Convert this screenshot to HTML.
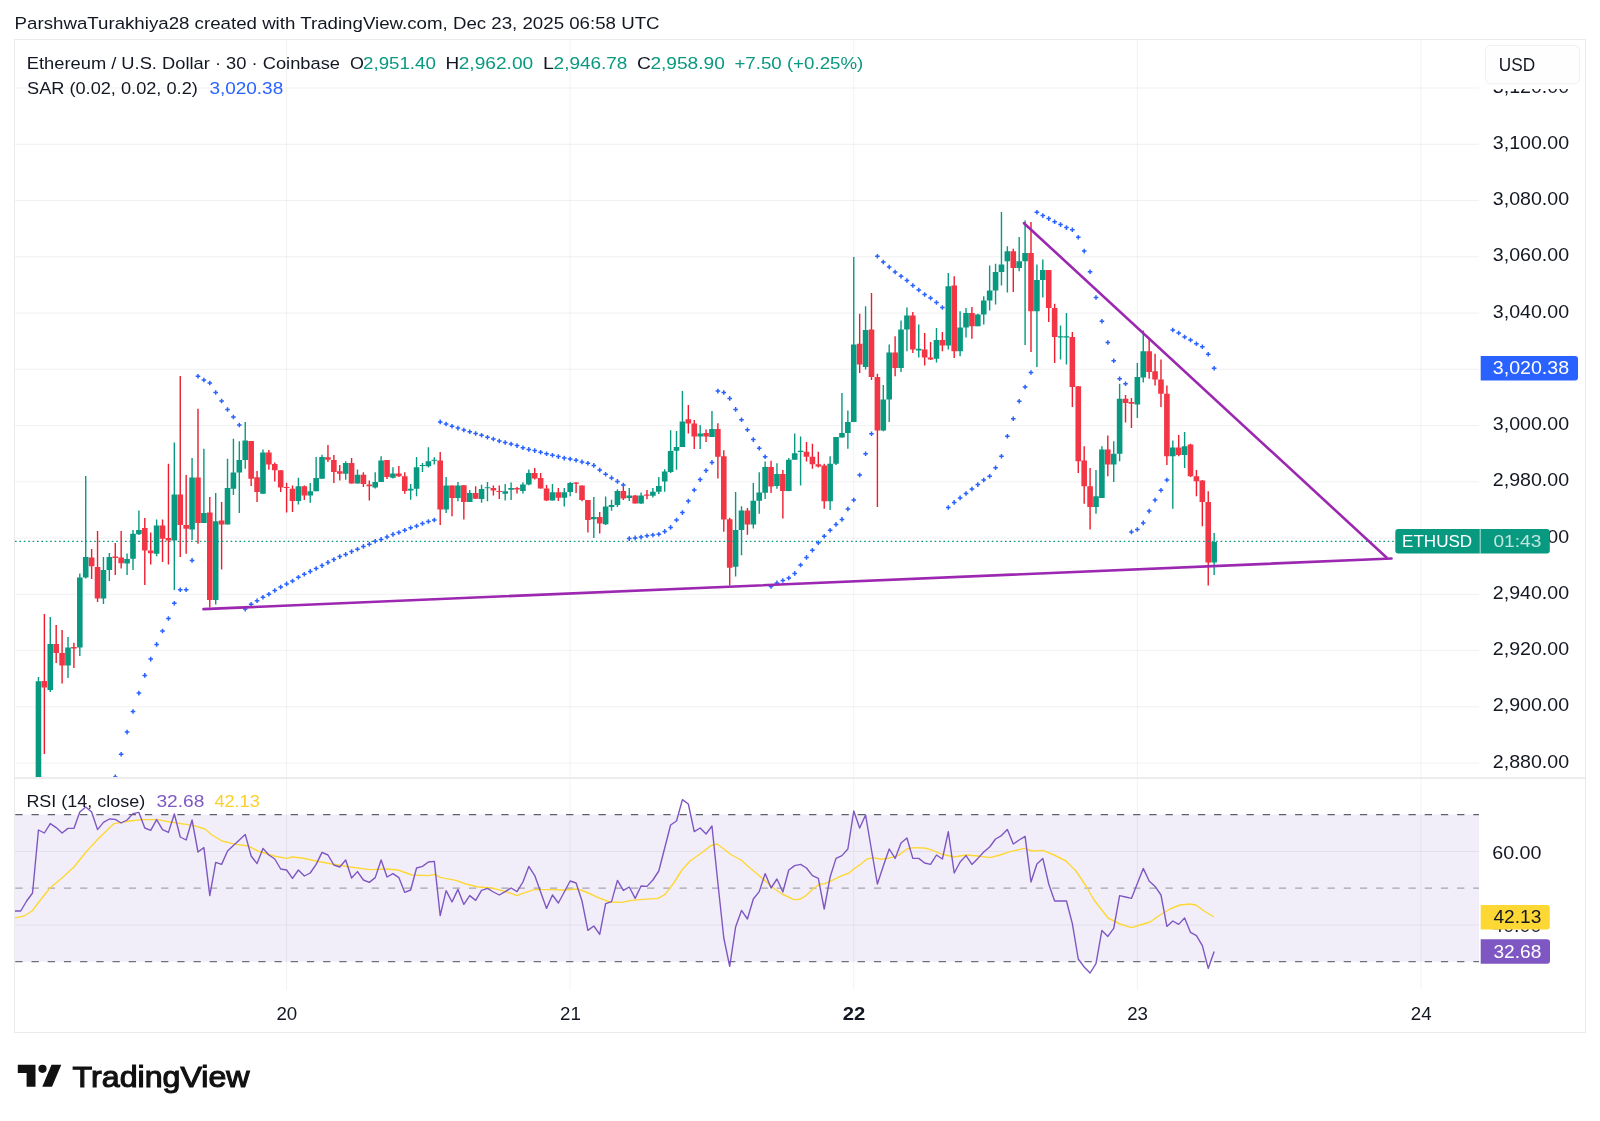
<!DOCTYPE html><html><head><meta charset="utf-8"><style>html,body{margin:0;padding:0;background:#fff;}svg{display:block;will-change:transform;}text{font-family:"Liberation Sans",sans-serif;}</style></head><body>
<svg width="1600" height="1121" viewBox="0 0 1600 1121">
<defs><clipPath id="mp"><rect x="15" y="40" width="1464" height="737"/></clipPath><clipPath id="rp"><rect x="15" y="779" width="1464" height="211"/></clipPath></defs>
<rect width="1600" height="1121" fill="#fff"/>
<text x="14.6" y="28.9" font-size="16.8" fill="#131722" textLength="645" lengthAdjust="spacingAndGlyphs">ParshwaTurakhiya28 created with TradingView.com, Dec 23, 2025 06:58 UTC</text>
<rect x="15" y="814.6" width="1464" height="147.1" fill="#F2EEF9"/>
<path d="M15 88.0H1479 M15 144.3H1479 M15 200.6H1479 M15 256.8H1479 M15 313.1H1479 M15 369.3H1479 M15 425.6H1479 M15 481.8H1479 M15 538.1H1479 M15 594.3H1479 M15 650.6H1479 M15 706.8H1479 M15 763.1H1479 M15 851.4H1479 M15 925.0H1479" stroke="#000" stroke-opacity="0.058" stroke-width="1" fill="none"/>
<path d="M286.5 40V777 M286.5 779V990 M570.1 40V777 M570.1 779V990 M853.7 40V777 M853.7 779V990 M1137.3 40V777 M1137.3 779V990 M1420.9 40V777 M1420.9 779V990" stroke="#000" stroke-opacity="0.05" stroke-width="1" fill="none"/>
<path d="M15.3 814.6H1479" stroke="#5D606B" stroke-width="1.2" stroke-dasharray="7.3 8.9" fill="none"/>
<path d="M15.3 888.2H1479" stroke="#A3A5AD" stroke-width="1.2" stroke-dasharray="7.3 8.9" fill="none"/>
<path d="M15.3 961.7H1479" stroke="#6E717C" stroke-width="1.2" stroke-dasharray="7.3 8.9" fill="none"/>
<path d="M15 778H1585" stroke="#ECECEC" stroke-width="2"/>
<rect x="14.5" y="39.5" width="1571" height="993" fill="none" stroke="#EBEBEB" stroke-width="1"/>
<g clip-path="url(#mp)">
<path d="M38.46 677.00V777.00 M50.28 617.00V692.00 M68.00 637.00V678.00 M79.82 573.60V656.00 M85.72 476.00V578.50 M103.45 557.00V604.00 M109.36 553.00V581.00 M127.08 553.50V575.00 M132.99 530.00V570.00 M138.90 510.50V535.00 M156.62 519.50V556.25 M174.34 442.50V590.00 M192.07 458.00V540.00 M203.88 448.75V523.00 M215.70 493.00V604.50 M227.52 458.75V524.50 M233.42 438.75V495.00 M239.33 441.25V513.00 M245.24 421.90V468.75 M262.96 449.40V493.75 M298.41 477.75V504.40 M310.23 483.00V502.75 M316.14 456.90V491.25 M322.04 454.75V478.75 M345.68 461.25V479.75 M357.49 469.40V483.50 M375.22 472.25V488.50 M381.12 456.25V481.90 M392.94 467.25V478.50 M410.66 484.00V499.75 M416.57 456.90V496.25 M422.48 463.10V471.90 M428.39 447.25V467.50 M434.30 457.25V464.40 M446.11 476.90V513.10 M457.93 481.90V501.25 M469.74 490.00V501.90 M481.56 484.75V502.75 M487.47 481.90V501.25 M505.19 484.00V500.60 M511.10 482.50V500.00 M522.92 482.25V493.50 M528.82 469.40V485.25 M552.46 484.00V500.60 M564.27 488.10V506.50 M570.18 481.90V496.25 M593.81 497.10V537.90 M605.63 496.40V525.00 M611.54 499.70V510.70 M617.44 489.30V507.10 M629.26 487.90V501.10 M641.08 492.60V504.00 M652.89 487.90V497.40 M658.80 476.90V494.00 M664.71 469.30V491.70 M670.62 430.30V473.10 M676.52 431.10V469.70 M682.43 391.10V446.90 M700.16 425.00V448.90 M711.97 411.10V437.10 M735.60 491.90V576.60 M741.51 506.20V555.20 M753.33 483.00V528.50 M759.24 472.30V513.80 M765.14 461.60V499.00 M776.96 463.30V488.80 M788.78 458.00V491.30 M794.68 433.50V459.80 M800.59 436.60V485.60 M830.13 456.25V510.00 M836.04 437.00V465.00 M841.95 393.00V437.50 M847.86 410.50V448.75 M853.76 257.00V422.00 M865.58 306.25V369.50 M883.30 385.00V431.25 M889.21 344.50V422.00 M901.03 320.50V372.00 M906.94 307.50V351.25 M918.75 324.50V357.50 M936.48 328.00V362.50 M948.29 273.00V349.50 M960.11 311.25V356.25 M966.02 308.00V337.50 M977.83 313.75V326.25 M983.74 296.25V324.50 M989.65 265.50V310.50 M995.56 263.75V304.50 M1001.46 212.00V285.50 M1007.37 246.25V292.50 M1019.19 237.00V271.25 M1025.10 220.50V345.00 M1036.91 264.50V367.00 M1042.82 259.50V297.50 M1060.54 325.50V359.50 M1066.45 313.00V364.50 M1095.99 470.00V513.75 M1101.90 446.25V498.00 M1113.72 441.25V482.00 M1119.62 383.75V461.25 M1137.35 363.00V418.00 M1143.26 330.50V382.50 M1172.80 440.50V508.75 M1184.61 432.00V468.00 M1214.15 533.00V575.00" stroke="#089981" stroke-width="1.4" fill="none"/>
<path d="M35.66 681.20h5.6v95.80h-5.6z M47.48 644.00h5.6v46.00h-5.6z M65.20 647.50h5.6v18.00h-5.6z M77.02 577.60h5.6v69.90h-5.6z M82.92 557.00h5.6v20.60h-5.6z M100.65 570.00h5.6v28.50h-5.6z M106.56 557.00h5.6v13.00h-5.6z M124.28 559.00h5.6v4.50h-5.6z M130.19 533.75h5.6v25.00h-5.6z M136.10 530.00h5.6v4.25h-5.6z M153.82 525.50h5.6v28.25h-5.6z M171.54 494.50h5.6v46.00h-5.6z M189.27 477.50h5.6v52.00h-5.6z M201.08 513.00h5.6v10.00h-5.6z M212.90 521.25h5.6v78.75h-5.6z M224.72 488.00h5.6v36.50h-5.6z M230.62 472.50h5.6v16.25h-5.6z M236.53 460.00h5.6v12.50h-5.6z M242.44 440.60h5.6v19.40h-5.6z M260.16 452.50h5.6v41.25h-5.6z M295.61 486.25h5.6v14.75h-5.6z M307.43 491.25h5.6v4.35h-5.6z M313.34 478.00h5.6v13.25h-5.6z M319.24 456.90h5.6v21.85h-5.6z M342.88 463.10h5.6v10.65h-5.6z M354.69 474.75h5.6v8.75h-5.6z M372.42 482.10h5.6v5.40h-5.6z M378.32 460.60h5.6v21.30h-5.6z M390.14 473.50h5.6v4.25h-5.6z M407.86 488.75h5.6v1.85h-5.6z M413.77 467.25h5.6v21.50h-5.6z M419.68 465.00h5.6v1.00h-5.6z M425.59 461.25h5.6v5.00h-5.6z M431.50 459.75h5.6v1.00h-5.6z M443.31 485.60h5.6v23.80h-5.6z M455.13 485.60h5.6v12.50h-5.6z M466.94 493.10h5.6v8.80h-5.6z M478.76 489.00h5.6v10.00h-5.6z M484.67 487.25h5.6v1.00h-5.6z M502.39 491.25h5.6v2.50h-5.6z M508.30 488.10h5.6v1.65h-5.6z M520.12 484.40h5.6v6.60h-5.6z M526.02 473.10h5.6v11.30h-5.6z M549.66 492.25h5.6v8.35h-5.6z M561.47 492.25h5.6v5.50h-5.6z M567.38 483.10h5.6v8.80h-5.6z M591.01 517.10h5.6v2.20h-5.6z M602.83 506.40h5.6v17.90h-5.6z M608.74 505.00h5.6v1.90h-5.6z M614.64 491.10h5.6v13.90h-5.6z M626.46 495.40h5.6v2.50h-5.6z M638.28 495.40h5.6v8.20h-5.6z M650.09 491.70h5.6v4.00h-5.6z M656.00 486.00h5.6v5.70h-5.6z M661.91 471.40h5.6v10.00h-5.6z M667.82 451.10h5.6v21.00h-5.6z M673.72 446.90h5.6v3.80h-5.6z M679.63 421.40h5.6v25.50h-5.6z M697.36 433.60h5.6v2.80h-5.6z M709.17 428.90h5.6v8.20h-5.6z M732.80 529.90h5.6v36.90h-5.6z M738.71 510.60h5.6v19.30h-5.6z M750.53 500.80h5.6v23.70h-5.6z M756.44 492.40h5.6v8.40h-5.6z M762.34 466.90h5.6v25.90h-5.6z M774.16 474.00h5.6v12.00h-5.6z M785.98 459.80h5.6v31.20h-5.6z M791.88 453.20h5.6v6.60h-5.6z M797.79 450.80h5.6v1.30h-5.6z M827.33 463.75h5.6v37.50h-5.6z M833.24 437.00h5.6v26.75h-5.6z M839.15 433.00h5.6v4.50h-5.6z M845.06 422.00h5.6v11.00h-5.6z M850.96 344.50h5.6v77.50h-5.6z M862.78 330.00h5.6v37.00h-5.6z M880.50 399.50h5.6v31.00h-5.6z M886.41 352.50h5.6v47.00h-5.6z M898.23 329.50h5.6v38.50h-5.6z M904.14 315.50h5.6v14.00h-5.6z M915.95 348.75h5.6v1.75h-5.6z M933.68 340.00h5.6v18.75h-5.6z M945.49 286.25h5.6v59.25h-5.6z M957.31 327.50h5.6v23.75h-5.6z M963.22 313.00h5.6v14.50h-5.6z M975.03 314.50h5.6v11.75h-5.6z M980.94 300.50h5.6v14.00h-5.6z M986.85 290.50h5.6v10.00h-5.6z M992.76 272.00h5.6v18.50h-5.6z M998.66 264.50h5.6v7.50h-5.6z M1004.57 251.25h5.6v10.00h-5.6z M1016.39 261.25h5.6v6.75h-5.6z M1022.30 253.00h5.6v8.25h-5.6z M1034.11 280.00h5.6v31.25h-5.6z M1040.02 270.00h5.6v10.00h-5.6z M1057.74 336.25h5.6v1.25h-5.6z M1063.65 336.25h5.6v1.25h-5.6z M1093.19 496.25h5.6v10.75h-5.6z M1099.10 449.50h5.6v48.50h-5.6z M1110.92 453.75h5.6v10.75h-5.6z M1116.82 398.75h5.6v55.00h-5.6z M1134.55 377.00h5.6v27.50h-5.6z M1140.46 351.25h5.6v26.25h-5.6z M1170.00 447.50h5.6v8.75h-5.6z M1181.81 446.25h5.6v8.75h-5.6z M1211.35 542.00h5.6v20.50h-5.6z" fill="#089981"/>
<path d="M44.37 614.00V754.00 M56.18 625.00V663.00 M62.09 630.00V683.50 M73.91 642.70V668.00 M91.63 549.00V579.00 M97.54 531.00V602.00 M115.26 543.00V575.00 M121.17 531.00V568.50 M144.80 518.00V585.00 M150.71 532.50V564.50 M162.53 519.50V562.00 M168.44 463.75V564.50 M180.25 376.00V557.00 M186.16 475.00V553.75 M197.98 408.75V543.75 M209.79 497.00V607.50 M221.61 502.00V569.50 M251.15 441.00V486.00 M257.06 471.00V501.90 M268.87 450.00V469.75 M274.78 462.50V481.50 M280.69 470.25V491.90 M286.60 482.75V512.50 M292.50 485.60V511.90 M304.32 485.60V500.00 M327.95 445.00V461.90 M333.86 455.00V483.10 M339.77 465.00V480.60 M351.58 458.00V483.50 M363.40 472.25V486.90 M369.31 480.60V500.60 M387.03 460.00V479.00 M398.85 466.00V476.90 M404.76 472.25V493.75 M440.20 451.90V525.00 M452.02 485.60V516.25 M463.84 485.00V519.40 M475.65 486.25V499.00 M493.38 485.60V495.60 M499.28 485.60V499.00 M517.01 486.90V493.50 M534.73 468.10V479.40 M540.64 473.10V488.50 M546.55 485.00V501.00 M558.36 488.10V501.00 M576.09 482.25V493.10 M582.00 485.60V501.25 M587.90 500.00V532.50 M599.72 512.10V533.60 M623.35 487.10V500.00 M635.17 495.00V503.60 M646.98 490.00V499.30 M688.34 405.00V433.60 M694.25 420.00V448.90 M706.06 429.40V441.90 M717.88 423.20V478.50 M723.79 450.30V531.70 M729.70 517.80V585.50 M747.42 507.90V534.70 M771.05 460.70V493.10 M782.87 469.90V518.60 M806.50 441.90V461.60 M812.41 443.70V468.70 M818.32 451.70V467.40 M824.22 463.75V508.75 M859.67 313.75V373.00 M871.49 293.00V380.00 M877.40 373.75V507.00 M895.12 336.25V376.25 M912.84 312.00V353.00 M924.66 333.00V365.50 M930.57 342.00V360.00 M942.38 332.00V351.25 M954.20 276.25V358.00 M971.92 307.00V338.75 M1013.28 248.75V292.00 M1031.00 222.00V352.00 M1048.73 270.00V322.00 M1054.64 303.75V363.00 M1072.36 332.00V407.00 M1078.27 386.25V473.00 M1084.18 446.25V503.75 M1090.08 468.00V529.50 M1107.81 435.50V476.25 M1125.53 395.00V422.50 M1131.44 398.00V428.00 M1149.16 338.75V378.75 M1155.07 353.75V385.50 M1160.98 359.50V407.00 M1166.89 385.50V465.00 M1178.70 435.00V456.25 M1190.52 443.75V477.00 M1196.43 470.00V496.25 M1202.34 480.00V526.25 M1208.24 491.25V585.50" stroke="#EE1C2E" stroke-width="1.4" fill="none"/>
<path d="M41.57 681.00h5.6v6.50h-5.6z M53.38 644.00h5.6v9.00h-5.6z M59.29 653.00h5.6v12.50h-5.6z M71.11 647.00h5.6v1.40h-5.6z M88.83 557.60h5.6v8.60h-5.6z M94.74 567.00h5.6v31.50h-5.6z M112.46 556.50h5.6v1.50h-5.6z M118.37 557.60h5.6v5.70h-5.6z M142.00 528.00h5.6v22.50h-5.6z M147.91 550.50h5.6v2.75h-5.6z M159.73 525.50h5.6v13.25h-5.6z M165.64 538.00h5.6v2.50h-5.6z M177.45 494.50h5.6v30.50h-5.6z M183.36 525.00h5.6v3.75h-5.6z M195.18 477.50h5.6v45.50h-5.6z M206.99 512.50h5.6v87.50h-5.6z M218.81 520.50h5.6v4.00h-5.6z M248.35 441.00h5.6v37.75h-5.6z M254.26 477.25h5.6v14.65h-5.6z M266.07 452.50h5.6v11.90h-5.6z M271.98 464.00h5.6v6.25h-5.6z M277.89 470.25h5.6v17.25h-5.6z M283.80 486.90h5.6v1.00h-5.6z M289.70 488.75h5.6v12.25h-5.6z M301.52 486.25h5.6v9.35h-5.6z M325.15 457.25h5.6v2.50h-5.6z M331.06 460.00h5.6v11.90h-5.6z M336.97 471.25h5.6v2.50h-5.6z M348.78 463.10h5.6v20.40h-5.6z M360.60 474.75h5.6v9.25h-5.6z M366.51 484.40h5.6v1.85h-5.6z M384.23 460.00h5.6v16.90h-5.6z M396.05 473.50h5.6v2.75h-5.6z M401.96 476.25h5.6v14.75h-5.6z M437.40 460.60h5.6v48.80h-5.6z M449.22 485.60h5.6v12.50h-5.6z M461.04 485.25h5.6v16.65h-5.6z M472.85 493.10h5.6v5.65h-5.6z M490.58 488.10h5.6v2.50h-5.6z M496.48 491.00h5.6v1.00h-5.6z M514.21 488.10h5.6v1.30h-5.6z M531.93 473.10h5.6v5.40h-5.6z M537.84 478.10h5.6v10.40h-5.6z M543.75 488.50h5.6v12.10h-5.6z M555.56 492.25h5.6v5.50h-5.6z M573.29 482.50h5.6v1.25h-5.6z M579.20 485.60h5.6v14.40h-5.6z M585.10 500.00h5.6v20.00h-5.6z M596.92 516.90h5.6v6.70h-5.6z M620.55 491.10h5.6v7.50h-5.6z M632.37 495.40h5.6v8.20h-5.6z M644.18 494.60h5.6v1.10h-5.6z M685.54 419.30h5.6v4.30h-5.6z M691.45 423.60h5.6v12.80h-5.6z M703.26 433.00h5.6v3.60h-5.6z M715.08 428.90h5.6v27.80h-5.6z M720.99 456.20h5.6v63.30h-5.6z M726.90 519.20h5.6v48.50h-5.6z M744.62 510.60h5.6v13.90h-5.6z M768.25 466.90h5.6v19.60h-5.6z M780.07 474.00h5.6v17.00h-5.6z M803.70 451.70h5.6v5.00h-5.6z M809.61 456.70h5.6v7.50h-5.6z M815.52 464.20h5.6v2.20h-5.6z M821.42 465.50h5.6v35.75h-5.6z M856.87 343.75h5.6v20.75h-5.6z M868.69 329.50h5.6v47.50h-5.6z M874.60 377.00h5.6v53.50h-5.6z M892.32 352.50h5.6v15.50h-5.6z M910.04 315.50h5.6v34.00h-5.6z M921.86 349.50h5.6v8.00h-5.6z M927.77 357.50h5.6v2.00h-5.6z M939.58 340.00h5.6v5.50h-5.6z M951.40 285.50h5.6v65.75h-5.6z M969.12 313.00h5.6v13.25h-5.6z M1010.48 251.25h5.6v16.75h-5.6z M1028.20 253.00h5.6v58.25h-5.6z M1045.93 270.00h5.6v38.00h-5.6z M1051.84 308.00h5.6v29.00h-5.6z M1069.56 337.00h5.6v50.00h-5.6z M1075.47 386.25h5.6v75.00h-5.6z M1081.38 460.50h5.6v25.75h-5.6z M1087.28 486.25h5.6v20.75h-5.6z M1105.01 449.50h5.6v15.00h-5.6z M1122.73 398.75h5.6v4.25h-5.6z M1128.64 402.00h5.6v1.75h-5.6z M1146.36 351.25h5.6v20.75h-5.6z M1152.27 371.25h5.6v8.25h-5.6z M1158.18 379.50h5.6v14.25h-5.6z M1164.09 393.75h5.6v62.50h-5.6z M1175.90 447.50h5.6v7.50h-5.6z M1187.72 444.50h5.6v31.75h-5.6z M1193.63 476.25h5.6v5.00h-5.6z M1199.54 480.50h5.6v21.50h-5.6z M1205.44 502.00h5.6v60.50h-5.6z" fill="#F23645"/>
<path d="M15 541.3H1396" stroke="#089981" stroke-width="1.3" stroke-dasharray="1.6 2.8" fill="none"/>
<path d="M112.96 776.15h4.6v1.5h-4.6z M114.51 774.60h1.5v4.6h-1.5z M118.87 753.55h4.6v1.5h-4.6z M120.42 752.00h1.5v4.6h-1.5z M124.78 731.35h4.6v1.5h-4.6z M126.33 729.80h1.5v4.6h-1.5z M130.69 710.75h4.6v1.5h-4.6z M132.24 709.20h1.5v4.6h-1.5z M136.60 692.35h4.6v1.5h-4.6z M138.15 690.80h1.5v4.6h-1.5z M142.50 674.65h4.6v1.5h-4.6z M144.05 673.10h1.5v4.6h-1.5z M148.41 658.35h4.6v1.5h-4.6z M149.96 656.80h1.5v4.6h-1.5z M154.32 643.65h4.6v1.5h-4.6z M155.87 642.10h1.5v4.6h-1.5z M160.23 630.25h4.6v1.5h-4.6z M161.78 628.70h1.5v4.6h-1.5z M166.14 617.75h4.6v1.5h-4.6z M167.69 616.20h1.5v4.6h-1.5z M172.04 602.45h4.6v1.5h-4.6z M173.59 600.90h1.5v4.6h-1.5z M177.95 589.05h4.6v1.5h-4.6z M179.50 587.50h1.5v4.6h-1.5z M183.86 589.05h4.6v1.5h-4.6z M185.41 587.50h1.5v4.6h-1.5z M189.77 559.65h4.6v1.5h-4.6z M191.32 558.10h1.5v4.6h-1.5z M195.68 375.50h4.6v1.5h-4.6z M197.23 373.95h1.5v4.6h-1.5z M201.58 379.25h4.6v1.5h-4.6z M203.13 377.70h1.5v4.6h-1.5z M207.49 382.25h4.6v1.5h-4.6z M209.04 380.70h1.5v4.6h-1.5z M213.40 391.75h4.6v1.5h-4.6z M214.95 390.20h1.5v4.6h-1.5z M219.31 400.25h4.6v1.5h-4.6z M220.86 398.70h1.5v4.6h-1.5z M225.22 408.75h4.6v1.5h-4.6z M226.77 407.20h1.5v4.6h-1.5z M231.12 416.25h4.6v1.5h-4.6z M232.67 414.70h1.5v4.6h-1.5z M237.03 424.25h4.6v1.5h-4.6z M238.58 422.70h1.5v4.6h-1.5z M242.94 608.35h4.6v1.5h-4.6z M244.49 606.80h1.5v4.6h-1.5z M248.85 603.45h4.6v1.5h-4.6z M250.40 601.90h1.5v4.6h-1.5z M254.76 600.05h4.6v1.5h-4.6z M256.31 598.50h1.5v4.6h-1.5z M260.66 596.45h4.6v1.5h-4.6z M262.21 594.90h1.5v4.6h-1.5z M266.57 593.45h4.6v1.5h-4.6z M268.12 591.90h1.5v4.6h-1.5z M272.48 589.75h4.6v1.5h-4.6z M274.03 588.20h1.5v4.6h-1.5z M278.39 586.25h4.6v1.5h-4.6z M279.94 584.70h1.5v4.6h-1.5z M284.30 583.15h4.6v1.5h-4.6z M285.85 581.60h1.5v4.6h-1.5z M290.20 580.25h4.6v1.5h-4.6z M291.75 578.70h1.5v4.6h-1.5z M296.11 576.45h4.6v1.5h-4.6z M297.66 574.90h1.5v4.6h-1.5z M302.02 573.55h4.6v1.5h-4.6z M303.57 572.00h1.5v4.6h-1.5z M307.93 570.65h4.6v1.5h-4.6z M309.48 569.10h1.5v4.6h-1.5z M313.84 567.75h4.6v1.5h-4.6z M315.39 566.20h1.5v4.6h-1.5z M319.74 564.85h4.6v1.5h-4.6z M321.29 563.30h1.5v4.6h-1.5z M325.65 561.65h4.6v1.5h-4.6z M327.20 560.10h1.5v4.6h-1.5z M331.56 558.85h4.6v1.5h-4.6z M333.11 557.30h1.5v4.6h-1.5z M337.47 555.85h4.6v1.5h-4.6z M339.02 554.30h1.5v4.6h-1.5z M343.38 553.65h4.6v1.5h-4.6z M344.93 552.10h1.5v4.6h-1.5z M349.28 550.85h4.6v1.5h-4.6z M350.83 549.30h1.5v4.6h-1.5z M355.19 548.55h4.6v1.5h-4.6z M356.74 547.00h1.5v4.6h-1.5z M361.10 545.65h4.6v1.5h-4.6z M362.65 544.10h1.5v4.6h-1.5z M367.01 543.55h4.6v1.5h-4.6z M368.56 542.00h1.5v4.6h-1.5z M372.92 540.45h4.6v1.5h-4.6z M374.47 538.90h1.5v4.6h-1.5z M378.82 538.65h4.6v1.5h-4.6z M380.37 537.10h1.5v4.6h-1.5z M384.73 536.15h4.6v1.5h-4.6z M386.28 534.60h1.5v4.6h-1.5z M390.64 533.65h4.6v1.5h-4.6z M392.19 532.10h1.5v4.6h-1.5z M396.55 531.75h4.6v1.5h-4.6z M398.10 530.20h1.5v4.6h-1.5z M402.46 529.50h4.6v1.5h-4.6z M404.01 527.95h1.5v4.6h-1.5z M408.36 527.00h4.6v1.5h-4.6z M409.91 525.45h1.5v4.6h-1.5z M414.27 525.25h4.6v1.5h-4.6z M415.82 523.70h1.5v4.6h-1.5z M420.18 522.75h4.6v1.5h-4.6z M421.73 521.20h1.5v4.6h-1.5z M426.09 520.75h4.6v1.5h-4.6z M427.64 519.20h1.5v4.6h-1.5z M432.00 519.25h4.6v1.5h-4.6z M433.55 517.70h1.5v4.6h-1.5z M437.90 421.15h4.6v1.5h-4.6z M439.45 419.60h1.5v4.6h-1.5z M443.81 423.25h4.6v1.5h-4.6z M445.36 421.70h1.5v4.6h-1.5z M449.72 425.50h4.6v1.5h-4.6z M451.27 423.95h1.5v4.6h-1.5z M455.63 427.35h4.6v1.5h-4.6z M457.18 425.80h1.5v4.6h-1.5z M461.54 429.25h4.6v1.5h-4.6z M463.09 427.70h1.5v4.6h-1.5z M467.44 430.95h4.6v1.5h-4.6z M468.99 429.40h1.5v4.6h-1.5z M473.35 432.75h4.6v1.5h-4.6z M474.90 431.20h1.5v4.6h-1.5z M479.26 434.50h4.6v1.5h-4.6z M480.81 432.95h1.5v4.6h-1.5z M485.17 436.50h4.6v1.5h-4.6z M486.72 434.95h1.5v4.6h-1.5z M491.08 438.25h4.6v1.5h-4.6z M492.63 436.70h1.5v4.6h-1.5z M496.98 440.25h4.6v1.5h-4.6z M498.53 438.70h1.5v4.6h-1.5z M502.89 441.75h4.6v1.5h-4.6z M504.44 440.20h1.5v4.6h-1.5z M508.80 443.25h4.6v1.5h-4.6z M510.35 441.70h1.5v4.6h-1.5z M514.71 444.85h4.6v1.5h-4.6z M516.26 443.30h1.5v4.6h-1.5z M520.62 447.00h4.6v1.5h-4.6z M522.17 445.45h1.5v4.6h-1.5z M526.52 448.65h4.6v1.5h-4.6z M528.07 447.10h1.5v4.6h-1.5z M532.43 449.85h4.6v1.5h-4.6z M533.98 448.30h1.5v4.6h-1.5z M538.34 451.50h4.6v1.5h-4.6z M539.89 449.95h1.5v4.6h-1.5z M544.25 453.00h4.6v1.5h-4.6z M545.80 451.45h1.5v4.6h-1.5z M550.16 454.50h4.6v1.5h-4.6z M551.71 452.95h1.5v4.6h-1.5z M556.06 455.85h4.6v1.5h-4.6z M557.61 454.30h1.5v4.6h-1.5z M561.97 457.35h4.6v1.5h-4.6z M563.52 455.80h1.5v4.6h-1.5z M567.88 458.25h4.6v1.5h-4.6z M569.43 456.70h1.5v4.6h-1.5z M573.79 459.50h4.6v1.5h-4.6z M575.34 457.95h1.5v4.6h-1.5z M579.70 461.15h4.6v1.5h-4.6z M581.25 459.60h1.5v4.6h-1.5z M585.60 462.55h4.6v1.5h-4.6z M587.15 461.00h1.5v4.6h-1.5z M591.51 464.65h4.6v1.5h-4.6z M593.06 463.10h1.5v4.6h-1.5z M597.42 469.25h4.6v1.5h-4.6z M598.97 467.70h1.5v4.6h-1.5z M603.33 473.55h4.6v1.5h-4.6z M604.88 472.00h1.5v4.6h-1.5z M609.24 477.15h4.6v1.5h-4.6z M610.79 475.60h1.5v4.6h-1.5z M615.14 480.65h4.6v1.5h-4.6z M616.69 479.10h1.5v4.6h-1.5z M621.05 484.25h4.6v1.5h-4.6z M622.60 482.70h1.5v4.6h-1.5z M626.96 537.85h4.6v1.5h-4.6z M628.51 536.30h1.5v4.6h-1.5z M632.87 537.15h4.6v1.5h-4.6z M634.42 535.60h1.5v4.6h-1.5z M638.78 536.35h4.6v1.5h-4.6z M640.33 534.80h1.5v4.6h-1.5z M644.68 534.95h4.6v1.5h-4.6z M646.23 533.40h1.5v4.6h-1.5z M650.59 534.25h4.6v1.5h-4.6z M652.14 532.70h1.5v4.6h-1.5z M656.50 533.55h4.6v1.5h-4.6z M658.05 532.00h1.5v4.6h-1.5z M662.41 530.65h4.6v1.5h-4.6z M663.96 529.10h1.5v4.6h-1.5z M668.32 526.65h4.6v1.5h-4.6z M669.87 525.10h1.5v4.6h-1.5z M674.22 519.25h4.6v1.5h-4.6z M675.77 517.70h1.5v4.6h-1.5z M680.13 511.85h4.6v1.5h-4.6z M681.68 510.30h1.5v4.6h-1.5z M686.04 500.35h4.6v1.5h-4.6z M687.59 498.80h1.5v4.6h-1.5z M691.95 489.25h4.6v1.5h-4.6z M693.50 487.70h1.5v4.6h-1.5z M697.86 478.85h4.6v1.5h-4.6z M699.41 477.30h1.5v4.6h-1.5z M703.76 469.85h4.6v1.5h-4.6z M705.31 468.30h1.5v4.6h-1.5z M709.67 461.65h4.6v1.5h-4.6z M711.22 460.10h1.5v4.6h-1.5z M715.58 390.35h4.6v1.5h-4.6z M717.13 388.80h1.5v4.6h-1.5z M721.49 391.75h4.6v1.5h-4.6z M723.04 390.20h1.5v4.6h-1.5z M727.40 397.65h4.6v1.5h-4.6z M728.95 396.10h1.5v4.6h-1.5z M733.30 408.65h4.6v1.5h-4.6z M734.85 407.10h1.5v4.6h-1.5z M739.21 418.95h4.6v1.5h-4.6z M740.76 417.40h1.5v4.6h-1.5z M745.12 429.05h4.6v1.5h-4.6z M746.67 427.50h1.5v4.6h-1.5z M751.03 438.85h4.6v1.5h-4.6z M752.58 437.30h1.5v4.6h-1.5z M756.94 447.45h4.6v1.5h-4.6z M758.49 445.90h1.5v4.6h-1.5z M762.84 455.95h4.6v1.5h-4.6z M764.39 454.40h1.5v4.6h-1.5z M768.75 585.65h4.6v1.5h-4.6z M770.30 584.10h1.5v4.6h-1.5z M774.66 582.15h4.6v1.5h-4.6z M776.21 580.60h1.5v4.6h-1.5z M780.57 579.75h4.6v1.5h-4.6z M782.12 578.20h1.5v4.6h-1.5z M786.48 577.25h4.6v1.5h-4.6z M788.03 575.70h1.5v4.6h-1.5z M792.38 572.65h4.6v1.5h-4.6z M793.93 571.10h1.5v4.6h-1.5z M798.29 564.25h4.6v1.5h-4.6z M799.84 562.70h1.5v4.6h-1.5z M804.20 556.65h4.6v1.5h-4.6z M805.75 555.10h1.5v4.6h-1.5z M810.11 549.45h4.6v1.5h-4.6z M811.66 547.90h1.5v4.6h-1.5z M816.02 542.05h4.6v1.5h-4.6z M817.57 540.50h1.5v4.6h-1.5z M821.92 535.55h4.6v1.5h-4.6z M823.47 534.00h1.5v4.6h-1.5z M827.83 529.45h4.6v1.5h-4.6z M829.38 527.90h1.5v4.6h-1.5z M833.74 523.65h4.6v1.5h-4.6z M835.29 522.10h1.5v4.6h-1.5z M839.65 518.65h4.6v1.5h-4.6z M841.20 517.10h1.5v4.6h-1.5z M845.56 508.25h4.6v1.5h-4.6z M847.11 506.70h1.5v4.6h-1.5z M851.46 499.25h4.6v1.5h-4.6z M853.01 497.70h1.5v4.6h-1.5z M857.37 474.25h4.6v1.5h-4.6z M858.92 472.70h1.5v4.6h-1.5z M863.28 453.00h4.6v1.5h-4.6z M864.83 451.45h1.5v4.6h-1.5z M869.19 433.00h4.6v1.5h-4.6z M870.74 431.45h1.5v4.6h-1.5z M875.10 255.50h4.6v1.5h-4.6z M876.65 253.95h1.5v4.6h-1.5z M881.00 261.25h4.6v1.5h-4.6z M882.55 259.70h1.5v4.6h-1.5z M886.91 266.25h4.6v1.5h-4.6z M888.46 264.70h1.5v4.6h-1.5z M892.82 271.25h4.6v1.5h-4.6z M894.37 269.70h1.5v4.6h-1.5z M898.73 275.50h4.6v1.5h-4.6z M900.28 273.95h1.5v4.6h-1.5z M904.64 279.75h4.6v1.5h-4.6z M906.19 278.20h1.5v4.6h-1.5z M910.54 284.75h4.6v1.5h-4.6z M912.09 283.20h1.5v4.6h-1.5z M916.45 289.25h4.6v1.5h-4.6z M918.00 287.70h1.5v4.6h-1.5z M922.36 293.75h4.6v1.5h-4.6z M923.91 292.20h1.5v4.6h-1.5z M928.27 297.25h4.6v1.5h-4.6z M929.82 295.70h1.5v4.6h-1.5z M934.18 301.75h4.6v1.5h-4.6z M935.73 300.20h1.5v4.6h-1.5z M940.08 306.75h4.6v1.5h-4.6z M941.63 305.20h1.5v4.6h-1.5z M945.99 506.75h4.6v1.5h-4.6z M947.54 505.20h1.5v4.6h-1.5z M951.90 501.65h4.6v1.5h-4.6z M953.45 500.10h1.5v4.6h-1.5z M957.81 497.15h4.6v1.5h-4.6z M959.36 495.60h1.5v4.6h-1.5z M963.72 492.75h4.6v1.5h-4.6z M965.27 491.20h1.5v4.6h-1.5z M969.62 488.25h4.6v1.5h-4.6z M971.17 486.70h1.5v4.6h-1.5z M975.53 483.85h4.6v1.5h-4.6z M977.08 482.30h1.5v4.6h-1.5z M981.44 479.25h4.6v1.5h-4.6z M982.99 477.70h1.5v4.6h-1.5z M987.35 475.55h4.6v1.5h-4.6z M988.90 474.00h1.5v4.6h-1.5z M993.26 467.05h4.6v1.5h-4.6z M994.81 465.50h1.5v4.6h-1.5z M999.16 455.50h4.6v1.5h-4.6z M1000.71 453.95h1.5v4.6h-1.5z M1005.07 435.50h4.6v1.5h-4.6z M1006.62 433.95h1.5v4.6h-1.5z M1010.98 418.00h4.6v1.5h-4.6z M1012.53 416.45h1.5v4.6h-1.5z M1016.89 400.50h4.6v1.5h-4.6z M1018.44 398.95h1.5v4.6h-1.5z M1022.80 386.25h4.6v1.5h-4.6z M1024.35 384.70h1.5v4.6h-1.5z M1028.70 371.75h4.6v1.5h-4.6z M1030.25 370.20h1.5v4.6h-1.5z M1034.61 211.45h4.6v1.5h-4.6z M1036.16 209.90h1.5v4.6h-1.5z M1040.52 214.85h4.6v1.5h-4.6z M1042.07 213.30h1.5v4.6h-1.5z M1046.43 217.85h4.6v1.5h-4.6z M1047.98 216.30h1.5v4.6h-1.5z M1052.34 220.95h4.6v1.5h-4.6z M1053.89 219.40h1.5v4.6h-1.5z M1058.24 223.85h4.6v1.5h-4.6z M1059.79 222.30h1.5v4.6h-1.5z M1064.15 226.85h4.6v1.5h-4.6z M1065.70 225.30h1.5v4.6h-1.5z M1070.06 228.95h4.6v1.5h-4.6z M1071.61 227.40h1.5v4.6h-1.5z M1075.97 236.45h4.6v1.5h-4.6z M1077.52 234.90h1.5v4.6h-1.5z M1081.88 250.35h4.6v1.5h-4.6z M1083.43 248.80h1.5v4.6h-1.5z M1087.78 271.00h4.6v1.5h-4.6z M1089.33 269.45h1.5v4.6h-1.5z M1093.69 296.75h4.6v1.5h-4.6z M1095.24 295.20h1.5v4.6h-1.5z M1099.60 320.50h4.6v1.5h-4.6z M1101.15 318.95h1.5v4.6h-1.5z M1105.51 341.75h4.6v1.5h-4.6z M1107.06 340.20h1.5v4.6h-1.5z M1111.42 360.00h4.6v1.5h-4.6z M1112.97 358.45h1.5v4.6h-1.5z M1117.32 378.00h4.6v1.5h-4.6z M1118.87 376.45h1.5v4.6h-1.5z M1123.23 383.00h4.6v1.5h-4.6z M1124.78 381.45h1.5v4.6h-1.5z M1129.14 531.15h4.6v1.5h-4.6z M1130.69 529.60h1.5v4.6h-1.5z M1135.05 528.75h4.6v1.5h-4.6z M1136.60 527.20h1.5v4.6h-1.5z M1140.96 522.15h4.6v1.5h-4.6z M1142.51 520.60h1.5v4.6h-1.5z M1146.86 510.35h4.6v1.5h-4.6z M1148.41 508.80h1.5v4.6h-1.5z M1152.77 499.35h4.6v1.5h-4.6z M1154.32 497.80h1.5v4.6h-1.5z M1158.68 489.55h4.6v1.5h-4.6z M1160.23 488.00h1.5v4.6h-1.5z M1164.59 479.25h4.6v1.5h-4.6z M1166.14 477.70h1.5v4.6h-1.5z M1170.50 329.25h4.6v1.5h-4.6z M1172.05 327.70h1.5v4.6h-1.5z M1176.40 332.25h4.6v1.5h-4.6z M1177.95 330.70h1.5v4.6h-1.5z M1182.31 336.25h4.6v1.5h-4.6z M1183.86 334.70h1.5v4.6h-1.5z M1188.22 339.25h4.6v1.5h-4.6z M1189.77 337.70h1.5v4.6h-1.5z M1194.13 343.00h4.6v1.5h-4.6z M1195.68 341.45h1.5v4.6h-1.5z M1200.04 346.00h4.6v1.5h-4.6z M1201.59 344.45h1.5v4.6h-1.5z M1205.94 353.50h4.6v1.5h-4.6z M1207.49 351.95h1.5v4.6h-1.5z M1211.85 367.45h4.6v1.5h-4.6z M1213.40 365.90h1.5v4.6h-1.5z" fill="#2962FF"/>
<path d="M1024 223.2L1386.5 557.5" stroke="#9C27B0" stroke-width="2.6" stroke-linecap="round" fill="none"/>
<path d="M203.5 609.1L1391.5 558.5" stroke="#9C27B0" stroke-width="2.6" stroke-linecap="round" fill="none"/>
</g>
<g clip-path="url(#rp)">
<polyline points="14.4,918.0 24.0,916.0 32.0,911.0 42.0,898.0 50.0,888.0 62.0,878.0 74.0,867.0 86.0,852.0 98.0,839.0 114.0,823.6 130.0,821.0 142.0,819.6 158.0,819.6 170.0,822.0 186.0,824.4 194.0,825.6 205.0,829.0 212.0,835.0 222.0,841.0 236.0,844.4 248.0,846.0 258.0,851.0 274.0,856.0 287.0,858.4 292.0,857.0 302.0,858.0 316.0,861.0 332.0,864.0 350.0,867.0 370.0,869.6 386.0,869.0 398.0,870.0 412.0,875.0 428.0,875.6 435.0,874.4 440.0,877.4 456.0,880.4 466.0,884.0 478.0,887.0 492.0,888.0 506.0,891.6 517.0,895.6 522.0,893.6 534.0,889.6 550.0,889.6 564.0,890.0 578.0,889.0 586.0,892.0 600.0,898.4 610.0,902.0 622.0,902.4 630.0,900.6 640.0,899.6 658.0,898.4 665.0,894.4 673.0,884.0 682.0,870.0 690.0,861.0 700.0,854.0 711.0,845.6 717.0,844.0 724.0,849.0 730.0,854.0 741.0,860.0 750.0,868.0 762.0,878.0 772.0,887.0 782.0,894.0 794.0,899.6 800.0,899.2 806.0,895.6 813.0,889.0 820.0,884.0 825.0,883.6 832.0,880.4 842.0,875.6 849.0,873.0 855.0,868.0 861.0,864.0 867.0,859.0 873.0,857.6 881.0,859.2 888.0,858.4 898.0,855.6 907.0,849.0 914.0,847.6 924.0,848.0 931.0,849.6 940.0,853.6 954.0,857.0 966.0,855.0 978.0,856.0 990.0,857.6 1000.0,855.0 1010.0,851.6 1025.0,848.4 1032.0,851.0 1043.0,850.4 1054.0,855.0 1066.0,861.0 1076.0,871.0 1086.0,886.0 1094.0,900.0 1108.0,918.0 1120.0,924.0 1131.6,927.6 1140.0,925.0 1150.0,922.0 1160.0,915.0 1170.0,909.0 1180.0,905.0 1190.0,904.0 1196.0,905.0 1204.0,911.0 1214.0,917.0" stroke="#FDD835" stroke-width="1.4" fill="none" stroke-linejoin="round"/>
<polyline points="14.83,911.0 20.74,911.0 26.64,901.0 32.55,893.0 38.46,830.0 44.37,833.0 50.28,823.6 56.18,827.6 62.09,833.0 68.00,828.4 73.91,828.4 79.82,812.0 85.72,807.0 91.63,812.0 97.54,829.6 103.45,822.4 109.36,819.0 115.26,819.4 121.17,823.0 127.08,820.0 132.99,813.6 138.90,812.4 144.80,828.0 150.71,830.4 156.62,819.6 162.53,829.6 168.44,832.4 174.34,814.0 180.25,837.0 186.16,840.0 192.07,820.0 197.98,852.0 203.88,847.6 209.79,895.6 215.70,862.4 221.61,864.4 227.52,851.0 233.42,845.6 239.33,840.0 245.24,834.4 251.15,856.0 257.06,863.6 262.96,848.4 268.87,855.0 274.78,859.0 280.69,869.0 286.60,870.0 292.50,878.4 298.41,870.0 304.32,876.0 310.23,873.0 316.14,864.4 322.04,852.4 327.95,855.0 333.86,865.0 339.77,867.0 345.68,860.0 351.58,878.0 357.49,871.6 363.40,880.0 369.31,882.4 375.22,877.6 381.12,860.0 387.03,877.0 392.94,873.6 398.85,877.6 404.76,892.4 410.66,890.0 416.57,868.0 422.48,866.4 428.39,862.0 434.30,861.4 440.20,915.6 446.11,890.6 452.02,902.0 457.93,889.4 463.84,904.4 469.74,895.6 475.65,900.4 481.56,890.4 487.47,888.4 493.38,892.0 499.28,895.0 505.19,891.6 511.10,888.0 517.01,891.6 522.92,882.0 528.82,866.4 534.73,875.6 540.64,892.0 546.55,908.4 552.46,895.0 558.36,903.0 564.27,892.0 570.18,881.0 576.09,883.0 582.00,901.0 587.90,930.4 593.81,926.0 599.72,934.4 605.63,903.6 611.54,901.6 617.44,880.4 623.35,890.4 629.26,887.0 635.17,898.4 641.08,886.0 646.98,886.4 652.89,880.0 658.80,871.0 664.71,848.0 670.62,825.0 676.52,821.0 682.43,799.6 688.34,804.0 694.25,831.6 700.16,828.0 706.06,834.0 711.97,826.0 717.88,883.0 723.79,938.0 729.70,966.4 735.60,927.0 741.51,910.4 747.42,919.0 753.33,899.0 759.24,891.6 765.14,873.6 771.05,888.0 776.96,879.0 782.87,892.0 788.78,870.0 794.68,865.6 800.59,864.4 806.50,868.0 812.41,875.6 818.32,878.4 824.22,909.0 830.13,877.0 836.04,858.4 841.95,855.6 847.86,849.0 853.76,811.0 859.67,828.0 865.58,815.0 871.49,850.0 877.40,884.0 883.30,866.0 889.21,849.0 895.12,858.4 901.03,843.0 906.94,838.0 912.84,858.4 918.75,858.4 924.66,863.0 930.57,864.4 936.48,855.0 942.38,859.0 948.29,831.6 954.20,873.0 960.11,862.0 966.02,855.6 971.92,864.4 977.83,858.4 983.74,852.0 989.65,847.0 995.56,839.0 1001.46,835.6 1007.37,829.6 1013.28,844.0 1019.19,840.0 1025.10,836.4 1031.00,882.0 1036.91,864.0 1042.82,858.4 1048.73,884.0 1054.64,901.0 1060.54,901.0 1066.45,901.0 1072.36,923.6 1078.27,959.0 1084.18,967.0 1090.08,973.0 1095.99,963.6 1101.90,930.4 1107.81,936.4 1113.72,928.4 1119.62,895.6 1125.53,897.0 1131.44,898.4 1137.35,883.6 1143.26,868.4 1149.16,881.0 1155.07,886.4 1160.98,895.0 1166.89,926.4 1172.80,921.0 1178.70,924.4 1184.61,918.0 1190.52,932.4 1196.43,935.6 1202.34,945.6 1208.24,968.4 1214.15,951.6" stroke="#7E57C2" stroke-width="1.4" fill="none" stroke-linejoin="round"/>
</g>
<text x="26.8" y="69.1" font-size="17.2" fill="#131722" textLength="313.2" lengthAdjust="spacingAndGlyphs">Ethereum / U.S. Dollar · 30 · Coinbase</text>
<text x="350.0" y="69.1" font-size="17.2" fill="#131722" textLength="13.9" lengthAdjust="spacingAndGlyphs">O</text>
<text x="363.1" y="69.1" font-size="17.2" fill="#089981" textLength="72.7" lengthAdjust="spacingAndGlyphs">2,951.40</text>
<text x="445.6" y="69.1" font-size="17.2" fill="#131722" textLength="13.7" lengthAdjust="spacingAndGlyphs">H</text>
<text x="458.7" y="69.1" font-size="17.2" fill="#089981" textLength="74.5" lengthAdjust="spacingAndGlyphs">2,962.00</text>
<text x="543.1" y="69.1" font-size="17.2" fill="#131722" textLength="10.9" lengthAdjust="spacingAndGlyphs">L</text>
<text x="553.6" y="69.1" font-size="17.2" fill="#089981" textLength="73.8" lengthAdjust="spacingAndGlyphs">2,946.78</text>
<text x="636.9" y="69.1" font-size="17.2" fill="#131722" textLength="13.9" lengthAdjust="spacingAndGlyphs">C</text>
<text x="650.4" y="69.1" font-size="17.2" fill="#089981" textLength="74.4" lengthAdjust="spacingAndGlyphs">2,958.90</text>
<text x="734.4" y="69.1" font-size="17.2" fill="#089981" textLength="128.9" lengthAdjust="spacingAndGlyphs">+7.50 (+0.25%)</text>
<text x="27.0" y="93.8" font-size="17.2" fill="#131722" textLength="170.8" lengthAdjust="spacingAndGlyphs">SAR (0.02, 0.02, 0.2)</text>
<text x="209.4" y="93.8" font-size="17.2" fill="#2962FF" textLength="73.8" lengthAdjust="spacingAndGlyphs">3,020.38</text>
<text x="26.4" y="807" font-size="17.2" fill="#131722" textLength="118.8" lengthAdjust="spacingAndGlyphs">RSI (14, close)</text>
<text x="156.4" y="807" font-size="17.2" fill="#7E57C2" textLength="48.0" lengthAdjust="spacingAndGlyphs">32.68</text>
<text x="214.4" y="807" font-size="17.2" fill="#FAD02C" textLength="45.4" lengthAdjust="spacingAndGlyphs">42.13</text>
<text x="1492.8" y="92.6" font-size="17.7" fill="#131722" textLength="76.3" lengthAdjust="spacingAndGlyphs">3,120.00</text>
<text x="1492.8" y="148.9" font-size="17.7" fill="#131722" textLength="76.3" lengthAdjust="spacingAndGlyphs">3,100.00</text>
<text x="1492.8" y="205.2" font-size="17.7" fill="#131722" textLength="76.3" lengthAdjust="spacingAndGlyphs">3,080.00</text>
<text x="1492.8" y="261.4" font-size="17.7" fill="#131722" textLength="76.3" lengthAdjust="spacingAndGlyphs">3,060.00</text>
<text x="1492.8" y="317.7" font-size="17.7" fill="#131722" textLength="76.3" lengthAdjust="spacingAndGlyphs">3,040.00</text>
<text x="1492.8" y="373.9" font-size="17.7" fill="#131722" textLength="76.3" lengthAdjust="spacingAndGlyphs">3,020.00</text>
<text x="1492.8" y="430.2" font-size="17.7" fill="#131722" textLength="76.3" lengthAdjust="spacingAndGlyphs">3,000.00</text>
<text x="1492.8" y="486.4" font-size="17.7" fill="#131722" textLength="76.3" lengthAdjust="spacingAndGlyphs">2,980.00</text>
<text x="1492.8" y="542.7" font-size="17.7" fill="#131722" textLength="76.3" lengthAdjust="spacingAndGlyphs">2,960.00</text>
<text x="1492.8" y="598.9" font-size="17.7" fill="#131722" textLength="76.3" lengthAdjust="spacingAndGlyphs">2,940.00</text>
<text x="1492.8" y="655.2" font-size="17.7" fill="#131722" textLength="76.3" lengthAdjust="spacingAndGlyphs">2,920.00</text>
<text x="1492.8" y="711.4" font-size="17.7" fill="#131722" textLength="76.3" lengthAdjust="spacingAndGlyphs">2,900.00</text>
<text x="1492.8" y="767.7" font-size="17.7" fill="#131722" textLength="76.3" lengthAdjust="spacingAndGlyphs">2,880.00</text>
<text x="1492.2" y="858.6" font-size="17.7" fill="#131722" textLength="49.3" lengthAdjust="spacingAndGlyphs">60.00</text>
<text x="1492.2" y="932.2" font-size="17.7" fill="#131722" textLength="49.3" lengthAdjust="spacingAndGlyphs">40.00</text>
<rect x="1480" y="40.5" width="104.5" height="48.6" fill="#fff"/>
<rect x="1485.5" y="45.5" width="94" height="38.3" rx="5" fill="#FEFEFE" stroke="#F0F0F0" stroke-width="1"/>
<text x="1498.7" y="70.8" font-size="17.7" fill="#131722" textLength="36.4" lengthAdjust="spacingAndGlyphs">USD</text>
<path d="M1480.7 355.9H1575a3 3 0 0 1 3 3V377.6a3 3 0 0 1-3 3H1480.7z" fill="#2962FF"/>
<text x="1492.8" y="374" font-size="17.7" fill="#fff" textLength="76.3" lengthAdjust="spacingAndGlyphs">3,020.38</text>
<rect x="1395.3" y="529" width="154.5" height="24.4" rx="3" fill="#089981"/>
<path d="M1480.2 529V553.4" stroke="#fff" stroke-width="0.8" opacity="0.9"/>
<text x="1402" y="547.1" font-size="17.2" fill="#fff" textLength="70.2" lengthAdjust="spacingAndGlyphs">ETHUSD</text>
<text x="1493.4" y="547.1" font-size="17.2" fill="#fff" fill-opacity="0.75" textLength="47.9" lengthAdjust="spacingAndGlyphs">01:43</text>
<path d="M1480.7 904.9H1546.8a3 3 0 0 1 3 3V926.4a3 3 0 0 1-3 3H1480.7z" fill="#FDD835"/>
<text x="1493.4" y="923.4" font-size="17.7" fill="#131722" textLength="47.9" lengthAdjust="spacingAndGlyphs">42.13</text>
<path d="M1480.7 939.2H1547a3 3 0 0 1 3 3V960.7a3 3 0 0 1-3 3H1480.7z" fill="#7E57C2"/>
<text x="1493.4" y="957.7" font-size="17.7" fill="#fff" textLength="47.9" lengthAdjust="spacingAndGlyphs">32.68</text>
<text x="276.4" y="1019.8" font-size="17.7" font-weight="normal" fill="#131722" textLength="20.8" lengthAdjust="spacingAndGlyphs">20</text>
<text x="560.0" y="1019.8" font-size="17.7" font-weight="normal" fill="#131722" textLength="20.8" lengthAdjust="spacingAndGlyphs">21</text>
<text x="842.7" y="1019.8" font-size="17.7" font-weight="bold" fill="#131722" textLength="22.6" lengthAdjust="spacingAndGlyphs">22</text>
<text x="1127.2" y="1019.8" font-size="17.7" font-weight="normal" fill="#131722" textLength="20.8" lengthAdjust="spacingAndGlyphs">23</text>
<text x="1410.8" y="1019.8" font-size="17.7" font-weight="normal" fill="#131722" textLength="20.8" lengthAdjust="spacingAndGlyphs">24</text>
<g fill="#111"><path d="M17.8 1064.7H35.5V1086.8H26.6V1072.9H17.8Z"/><circle cx="42.5" cy="1068.8" r="4.1"/><path d="M51.5 1064.7H61.3L52 1086.8H42.3Z"/></g>
<text x="72.6" y="1086.8" font-size="30" fill="#111" stroke="#111" stroke-width="1.15" textLength="177" lengthAdjust="spacingAndGlyphs">TradingView</text>
</svg></body></html>
